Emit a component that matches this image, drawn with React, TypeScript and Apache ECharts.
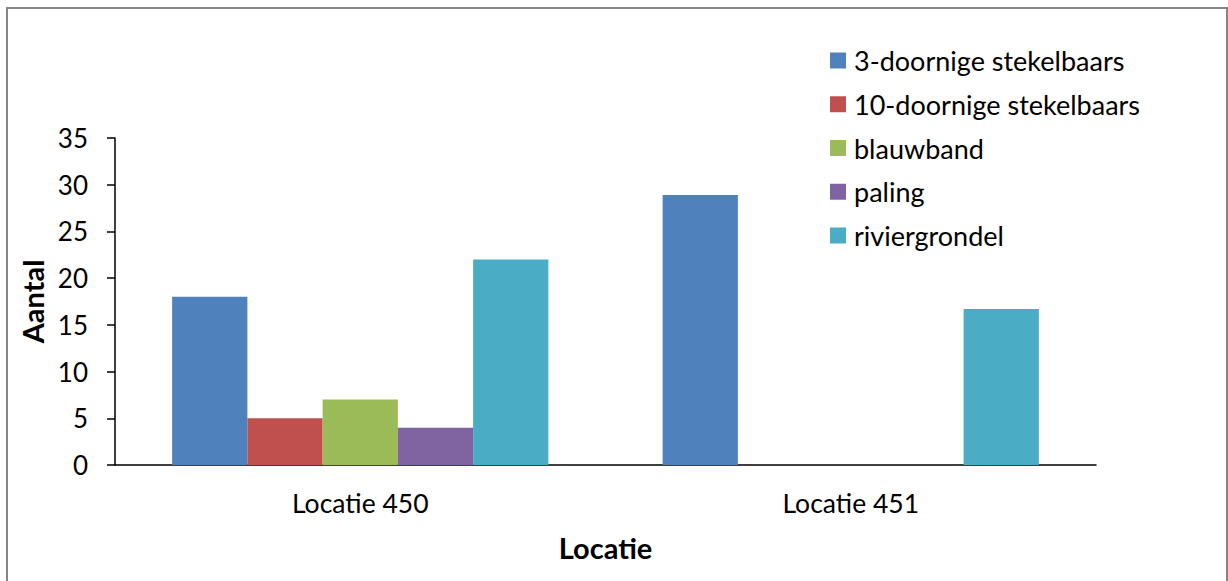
import React, { useEffect, useRef } from "react";
import * as echarts from "echarts";

const categories = ["Locatie 450", "Locatie 451"];
const seriesNames = [
  "3-doornige stekelbaars",
  "10-doornige stekelbaars",
  "blauwband",
  "paling",
  "riviergrondel",
];
const driedoornig = [18, 28.9];
const tiendoornig = [5, 0];
const blauwband = [7, 0];
const paling = [4, 0];
const riviergrondel = [22, 16.7];
const seriesValues = [driedoornig, tiendoornig, blauwband, paling, riviergrondel];
const colors = ["#4F81BD", "#C0504D", "#9BBB59", "#8064A2", "#4BACC6"];

const FONT = "Lato";

export default function App() {
  const ref = useRef<HTMLDivElement>(null);
  useEffect(() => {
    if (!ref.current) return;
    const chart = echarts.init(ref.current, undefined, { renderer: "svg" });
    chart.setOption({
      animation: false,
      backgroundColor: "#ffffff",
      textStyle: { fontFamily: FONT },
      graphic: [
        {
          type: "rect",
          shape: { x: 7, y: 8, width: 1220, height: 600 },
          style: { fill: "none", stroke: "#868686", lineWidth: 2 },
          silent: true,
        },
      ],
      legend: {
        orient: "vertical",
        left: 830,
        top: 47,
        padding: 0,
        itemWidth: 16,
        itemHeight: 16,
        itemGap: 16.75,
        icon: "rect",
        textStyle: {
          fontFamily: FONT,
          fontSize: 27,
          color: "#000",
          lineHeight: 26,
          padding: [0, 0, 0, 3],
        },
        data: seriesNames,
      },
      grid: { left: 115, right: 132, top: 138, bottom: 116, containLabel: false },
      xAxis: {
        type: "category",
        data: categories,
        name: "Locatie",
        nameLocation: "middle",
        nameGap: 68,
        nameTextStyle: { fontFamily: FONT, fontSize: 29, fontWeight: "bold", color: "#000" },
        axisLine: { lineStyle: { color: "#000", width: 1.5 } },
        axisTick: { show: false },
        axisLabel: { fontFamily: FONT, fontSize: 26.5, color: "#000", margin: 24 },
      },
      yAxis: {
        type: "value",
        min: 0,
        max: 35,
        interval: 5,
        name: "Aantal",
        nameLocation: "middle",
        nameGap: 64,
        nameTextStyle: { fontFamily: FONT, fontSize: 29, fontWeight: "bold", color: "#000" },
        axisLine: { show: true, lineStyle: { color: "#000", width: 1.5 } },
        axisTick: { show: true, inside: false, length: 8, lineStyle: { color: "#000", width: 1.5 } },
        splitLine: { show: false },
        axisLabel: { fontFamily: FONT, fontSize: 26, color: "#000", margin: 27 },
      },
      series: seriesNames.map((name, i) => ({
        name,
        type: "bar",
        data: seriesValues[i],
        barGap: "0%",
        barCategoryGap: "23.3%",
        itemStyle: { color: colors[i] },
      })),
    });
    return () => chart.dispose();
  }, []);
  return (
    <div
      ref={ref}
      style={{ position: "fixed", left: 0, top: 0, width: 1228, height: 581 }}
    />
  );
}
